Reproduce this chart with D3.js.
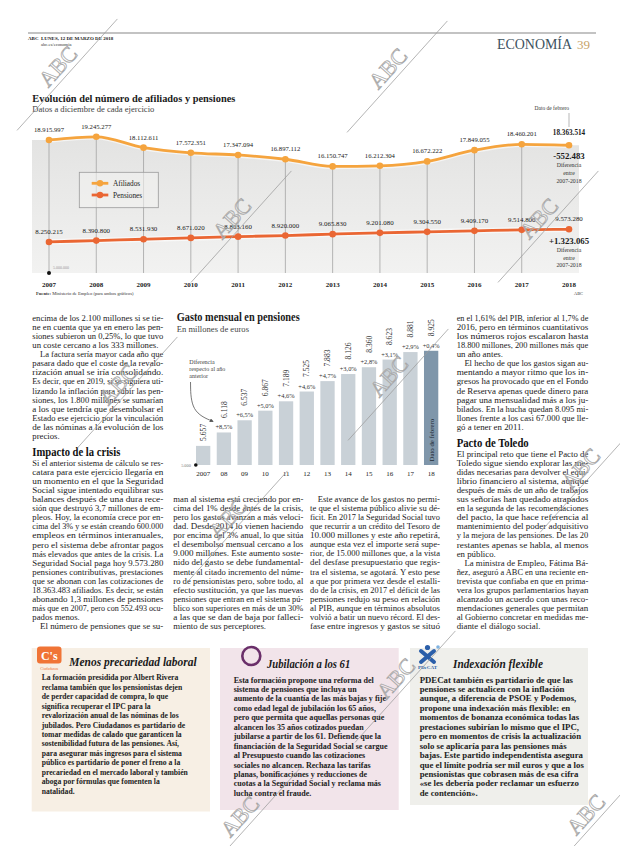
<!DOCTYPE html>
<html><head><meta charset="utf-8">
<script src="https://cdn.jsdelivr.net/npm/d3@7"></script>
<style>
body{margin:0;background:#fff;}
svg{display:block;}
text{font-family:"Liberation Serif","DejaVu Serif",serif;}
</style></head><body>
<svg id="page" width="620" height="846"></svg>
<script>
// ---------------- DATA ----------------
const years = [2007,2008,2009,2010,2011,2012,2013,2014,2015,2016,2017,2018];
const afiliados = [18915997,19245277,18112611,17572351,17347094,16897112,16150747,16212304,16672222,17849055,18460201,18363514];
const pensiones = [8250215,8390800,8531930,8671020,8803160,8920000,9065830,9201080,9304550,9409170,9514800,9573280];
const seriesNames = ["Afiliados","Pensiones"];
const gastoLabels = ["2007","08","09","10","11","12","13","14","15","16","17","18"];
const gasto = [5657,6118,6537,6867,7189,7525,7883,8126,8360,8623,8881,8925];
const gastoVar = ["","+8,5%","+6,5%","+5,0%","+4,6%","+4,6%","+4,7%","+3,0%","+2,8%","+3,1%","+2,9%","+0,4%"];

const leftCol = [
"encima de los 2.100 millones si se tie-",
"ne en cuenta que ya en enero las pen-",
"siones subieron un 0,25%, lo que tuvo",
"un coste cercano a los 333 millones.¶",
">La factura sería mayor cada año que",
"pasara dado que el coste de la revalo-",
"rización anual se iría consolidando.",
"Es decir, que en 2019, si se siguiera uti-",
"lizando la inflación para subir las pen-",
"siones, los 1.800 millones se sumarían",
"a los que tendría que desembolsar el",
"Estado ese ejercicio por la vinculación",
"de las nóminas a la evolución de los",
"precios.¶",
"#Impacto de la crisis",
"Si el anterior sistema de cálculo se res-",
"catara para este ejercicio llegaría en",
"un momento en el que la Seguridad",
"Social sigue intentado equilibrar sus",
"balances después de una dura rece-",
"sión que destruyó 3,7 millones de em-",
"pleos. Hoy, la economía crece por en-",
"cima del 3% y se están creando 600.000",
"empleos en términos interanuales,",
"pero el sistema debe afrontar pagos",
"más elevados que antes de la crisis. La",
"Seguridad Social paga hoy 9.573.280",
"pensiones contributivas, prestaciones",
"que se abonan con las cotizaciones de",
"18.363.483 afiliados. Es decir, se están",
"abonando 1,3 millones de pensiones",
"más que en 2007, pero con 552.493 ocu-",
"pados menos.¶",
">El número de pensiones que se su-"
];
const midCol1 = [
"man al sistema está creciendo por en-",
"cima del 1% desde antes de la crisis,",
"pero los gastos avanzan a más veloci-",
"dad. Desde 2014 lo vienen haciendo",
"por encima del 3% anual, lo que sitúa",
"el desembolso mensual cercano a los",
"9.000 millones. Este aumento soste-",
"nido del gasto se debe fundamental-",
"mente al citado incremento del núme-",
"ro de pensionistas pero, sobre todo, al",
"efecto sustitución, ya que las nuevas",
"pensiones que entran en el sistema pú-",
"blico son superiores en más de un 30%",
"a las que se dan de baja por falleci-",
"miento de sus perceptores.¶"
];
const midCol2 = [
">Este avance de los gastos no permi-",
"te que el sistema público alivie su dé-",
"ficit. En 2017 la Seguridad Social tuvo",
"que recurrir a un crédito del Tesoro de",
"10.000 millones y este año repetirá,",
"aunque esta vez el importe será supe-",
"rior, de 15.000 millones que, a la vista",
"del desfase presupuestario que regis-",
"tra el sistema, se agotará. Y esto pese",
"a que por primera vez desde el estalli-",
"do de la crisis, en 2017 el déficit de las",
"pensiones redujo su peso en relación",
"al PIB, aunque en términos absolutos",
"volvió a batir un nuevo récord. El des-",
"fase entre ingresos y gastos se situó"
];
const rightCol = [
"en el 1,61% del PIB, inferior al 1,7% de",
"2016, pero en términos cuantitativos",
"los números rojos escalaron hasta",
"18.800 millones, 200 millones más que",
"un año antes.¶",
">El hecho de que los gastos sigan au-",
"mentando a mayor ritmo que los in-",
"gresos ha provocado que en el Fondo",
"de Reserva apenas quede dinero para",
"pagar una mensualidad más a los ju-",
"bilados. En la hucha quedan 8.095 mi-",
"llones frente a los casi 67.000 que lle-",
"gó a tener en 2011.¶",
"#Pacto de Toledo",
"El principal reto que tiene el Pacto de",
"Toledo sigue siendo explorar las me-",
"didas necesarias para devolver el equi-",
"librio financiero al sistema, aunque",
"después de más de un año de trabajos",
"sus señorías han quedado atrapados",
"en la segunda de las recomendaciones",
"del pacto, la que hace referencia al",
"mantenimiento del poder adquisitivo",
"y la mejora de las pensiones. De las 20",
"restantes apenas se habla, al menos",
"en público.¶",
">La ministra de Empleo, Fátima Bá-",
"ñez, aseguró a ABC en una reciente en-",
"trevista que confiaba en que en prima-",
"vera los grupos parlamentarios hayan",
"alcanzado un acuerdo con unas reco-",
"mendaciones generales que permitan",
"al Gobierno concretar en medidas me-",
"diante el diálogo social.¶"
];
const box1Lines = [
"La formación presidida por Albert Rivera",
"reclama también que los pensionistas dejen",
"de perder capacidad de compra, lo que",
"significa recuperar el IPC para la",
"revalorización anual de las nóminas de los",
"jubilados. Pero Ciudadanos es partidario de",
"tomar medidas de calado que garanticen la",
"sostenibilidad futura de las pensiones. Así,",
"para asegurar más ingresos para el sistema",
"público es partidario de poner el freno a la",
"precariedad en el mercado laboral y también",
"aboga por fórmulas que fomenten la",
"natalidad."
];
const box2Lines = [
"Esta formación propone una reforma del",
"sistema de pensiones que incluya un",
"aumento de la cuantía de las más bajas y fije",
"como edad legal de jubilación los 65 años,",
"pero que permita que aquellas personas que",
"alcancen los 35 años cotizados puedan",
"jubilarse a partir de los 61. Defiende que la",
"financiación de la Seguridad Social se cargue",
"al Presupuesto cuando las cotizaciones",
"sociales no alcancen. Rechaza las tarifas",
"planas, bonificaciones y reducciones de",
"cuotas a la Seguridad Social y reclama más",
"lucha contra el fraude."
];
const box3Lines = [
"PDECat también es partidario de que las",
"pensiones se actualicen con la inflación",
"aunque, a diferencia de PSOE y Podemos,",
"propone una indexación más flexible: en",
"momentos de bonanza económica todas las",
"prestaciones subirían lo mismo que el IPC,",
"pero en momentos de crisis la actualización",
"solo se aplicaría para las pensiones más",
"bajas. Este partido independentista asegura",
"que el límite podría ser mil euros y que a los",
"pensionistas que cobrasen más de esa cifra",
"«se les debería poder reclamar un esfuerzo",
"de contención»."
];

// ---------------- SETUP ----------------
const svg = d3.select("#page");
const es = d3.formatLocale({decimal:",", thousands:".", grouping:[3], currency:["","€"], minus:"-"});
const fmt = es.format(",d");
const fmtS = es.format("+,d");
function fit(t, w){ t.attr("textLength", w).attr("lengthAdjust","spacingAndGlyphs"); return t; }
const AFI = "#f5a43e", PEN = "#ea6633";

// ---------------- HEADER ----------------
svg.append("line").attr("x1",28).attr("x2",596).attr("y1",33).attr("y2",33).attr("stroke","#888").attr("stroke-width",1.2);
svg.append("text").attr("x",28).attr("y",40).attr("font-size",5).attr("font-weight","bold").attr("fill","#222").text("ABC");
svg.append("text").attr("x",41).attr("y",40).attr("font-size",5).attr("font-weight","bold").attr("fill","#222").text("LUNES, 12 DE MARZO DE 2018");
svg.append("text").attr("x",41).attr("y",45.5).attr("font-size",4.6).attr("fill","#333").text("abc.es/economia");
fit(svg.append("text").attr("x",497).attr("y",49).attr("font-size",14).attr("fill","#3d5260").text("ECONOMÍA"),75);
svg.append("text").attr("x",577).attr("y",49).attr("font-size",13).attr("fill","#c8a36a").text("39");

// ---------------- LINE CHART ----------------
fit(svg.append("text").attr("x",32.3).attr("y",101.8).attr("font-size",11).attr("font-weight","bold").attr("fill","#1a1a1a")
  .text("Evolución del número de afiliados y pensiones"),203);
fit(svg.append("text").attr("x",32.3).attr("y",111.8).attr("font-size",8.5).attr("fill","#444")
  .text("Datos a diciembre de cada ejercicio"),122);

const xL = d3.scaleLinear().domain([years[0], years[years.length-1]]).range([49, 569]);
const yL = d3.scaleLinear().domain([5e6, 20e6]).range([273, 129.6]);
const afi = years.map((y,i)=>({year:y, v:afiliados[i]}));
const pen = years.map((y,i)=>({year:y, v:pensiones[i]}));

const defs = svg.append("defs");
const grad = defs.append("linearGradient").attr("id","areaGrad").attr("x1",0).attr("y1",0).attr("x2",0).attr("y2",1);
grad.append("stop").attr("offset","0%").attr("stop-color","#e3e3e2");
grad.append("stop").attr("offset","100%").attr("stop-color","#f2f2f1");

const areaPts = [{x:xL(years[0])-17, v:afiliados[0]}].concat(afi.map(d=>({x:xL(d.year), v:d.v}))).concat([{x:xL(years[years.length-1])+10, v:afiliados[afiliados.length-1]}]);
svg.append("path").datum(areaPts)
  .attr("d", d3.area().x(d=>d.x).y0(yL(5e6)).y1(d=>yL(d.v)).curve(d3.curveMonotoneX))
  .attr("fill","url(#areaGrad)");

// grid
svg.append("g").selectAll("line").data(afi.slice(0,-1)).join("line")
  .attr("x1",d=>xL(d.year)).attr("x2",d=>xL(d.year))
  .attr("y1",d=>yL(d.v)).attr("y2",yL(5e6))
  .attr("stroke","#9a9a9a").attr("stroke-width",0.7);
const lastYear = years[years.length-1];
svg.append("line").attr("x1",xL(lastYear)).attr("x2",xL(lastYear)).attr("y1",113).attr("y2",127)
  .attr("stroke","#9a9a9a").attr("stroke-width",0.7);
svg.append("text").attr("x",xL(lastYear)).attr("y",110).attr("text-anchor","end").attr("font-size",5.5).attr("fill","#333").text("Dato de febrero");

const lineGen = d3.line().x(d=>xL(d.year)).y(d=>yL(d.v)).curve(d3.curveMonotoneX);
[[afi,AFI],[pen,PEN]].forEach(([data,col])=>{
  svg.append("path").datum(data).attr("d",lineGen).attr("fill","none").attr("stroke","#fff").attr("stroke-opacity",0.6).attr("stroke-width",5.5);
  svg.append("path").datum(data).attr("d",lineGen).attr("fill","none").attr("stroke",col).attr("stroke-width",2.8);
  svg.append("g").selectAll("circle").data(data).join("circle")
    .attr("cx",d=>xL(d.year)).attr("cy",d=>yL(d.v)).attr("r",3.3).attr("fill",col);
});

// labels
svg.append("g").selectAll("text").data(afi).join("text")
  .attr("x",d=>xL(d.year)).attr("y",(d,i)=>yL(d.v)-(i===afi.length-1?10:8))
  .attr("text-anchor","middle").attr("font-size",(d,i)=>i===afi.length-1?7.2:6.7)
  .attr("font-weight",(d,i)=>i===afi.length-1?"bold":"normal").attr("fill","#1a1a1a")
  .text(d=>fmt(d.v));
svg.append("g").selectAll("text").data(pen).join("text")
  .attr("x",d=>xL(d.year)).attr("y",d=>yL(d.v)-8)
  .attr("text-anchor","middle").attr("font-size",6.9).attr("fill","#1a1a1a")
  .text(d=>fmt(d.v));

// differences
function diffNote(val, yTop){
  const g = svg.append("g").attr("text-anchor","middle");
  g.append("text").attr("x",xL(lastYear)).attr("y",yTop).attr("font-size",8.8).attr("font-weight","bold").attr("fill","#1a1a1a").text(fmtS(val));
  ["Diferencia","entre","2007-2018"].forEach((s,i)=>
    g.append("text").attr("x",xL(lastYear)).attr("y",yTop+8.3+i*7.6).attr("font-size",5.8).attr("fill","#333").text(s));
}
diffNote(afiliados[afiliados.length-1]-afiliados[0], 159);
diffNote(pensiones[pensiones.length-1]-pensiones[0], 243.7);

// years axis
svg.append("g").selectAll("text").data(years).join("text")
  .attr("x",d=>xL(d)).attr("y",286.5).attr("text-anchor","middle")
  .attr("font-size",7).attr("font-weight","bold").attr("fill","#222").text(d=>d);
svg.append("circle").attr("cx",xL(years[0])).attr("cy",yL(5e6)).attr("r",2).attr("fill","#111");
svg.append("text").attr("x",xL(years[0])+4).attr("y",yL(5e6)-4).attr("font-size",4).attr("fill","#999").text(fmt(5e6));

// legend
svg.append("rect").attr("x",79.3).attr("y",172.3).attr("width",79).attr("height",35.4)
  .attr("fill","#f1f1f0").attr("fill-opacity",0.6).attr("stroke","#9a9a9a").attr("stroke-width",0.8);
seriesNames.forEach((n,i)=>{
  const y = 183.3 + i*11.7, col = i===0?AFI:PEN;
  svg.append("line").attr("x1",91.7).attr("x2",108.3).attr("y1",y).attr("y2",y).attr("stroke",col).attr("stroke-width",2.8);
  svg.append("circle").attr("cx",100).attr("cy",y).attr("r",3.2).attr("fill",col);
  svg.append("text").attr("x",113).attr("y",y+2.5).attr("font-size",7.3).attr("fill","#222").text(n);
});

// source
const src = svg.append("text").attr("x",36).attr("y",295).attr("font-size",4.6).attr("fill","#333");
src.append("tspan").attr("font-weight","bold").text("Fuente: ");
src.append("tspan").text("Ministerio de Empleo (para ambos gráficos)");
svg.append("text").attr("x",583).attr("y",295).attr("text-anchor","end").attr("font-size",4.4).attr("fill","#333").text("ABC");

// ---------------- BAR CHART ----------------
fit(svg.append("text").attr("x",176.7).attr("y",321).attr("font-size",11.5).attr("font-weight","bold").attr("fill","#1a1a1a").text("Gasto mensual en pensiones"),123);
fit(svg.append("text").attr("x",176.7).attr("y",332).attr("font-size",8.5).attr("fill","#444").text("En millones de euros"),72.3);

const xB = d3.scaleBand().domain(gastoLabels).range([192.8,441.5]).paddingInner(0.31).paddingOuter(0.155);
const yB = d3.scaleLinear().domain([5000,9000]).range([465,348.6]);
const bars = gastoLabels.map((l,i)=>({l, v:gasto[i], p:gastoVar[i], last:i===gastoLabels.length-1}));
svg.append("g").selectAll("rect").data(bars).join("rect")
  .attr("x",d=>xB(d.l)).attr("y",d=>yB(d.v)).attr("width",xB.bandwidth()).attr("height",d=>yB(5000)-yB(d.v))
  .attr("fill",d=>d.last?"#7f96aa":"#c9d1d7");
// pct labels
svg.append("g").selectAll("text").data(bars.filter(d=>d.p)).join("text")
  .attr("x",d=>xB(d.l)+xB.bandwidth()/2).attr("y",d=>yB(d.v)-3)
  .attr("text-anchor","middle").attr("font-size",6.4).attr("fill","#333").text(d=>d.p);
// value labels rotated
svg.append("g").selectAll("text").data(bars).join("text")
  .attr("transform",d=>`translate(${xB(d.l)+xB.bandwidth()/2+2.7},${yB(d.v)-(d.p?14.5:5)}) rotate(-90)`)
  .attr("font-size",7.6).attr("fill","#333").text(d=>fmt(d.v));
// Dato de febrero inside last bar
const lastBar = bars[bars.length-1];
svg.append("text").attr("transform",`translate(${xB(lastBar.l)+xB.bandwidth()/2+2.4},${yB(5000)-3.5}) rotate(-90)`)
  .attr("font-size",6.8).attr("fill","#1e2b36").text("Dato de febrero");
// x axis
svg.append("g").selectAll("text").data(gastoLabels).join("text")
  .attr("x",d=>xB(d)+xB.bandwidth()/2).attr("y",475.5).attr("text-anchor","middle")
  .attr("font-size",7).attr("fill","#222").text(d=>d);
svg.append("circle").attr("cx",xB.range()[0]+3).attr("cy",yB(5000)).attr("r",1.8).attr("fill","#111");
svg.append("text").attr("x",xB.range()[0]-2).attr("y",yB(5000)+1.5).attr("text-anchor","end").attr("font-size",4.3).attr("fill","#777").text(fmt(5000));
// annotation
const ann = svg.append("g").attr("font-size",6).attr("fill","#444");
["Diferencia","respecto al año","anterior"].forEach((s,i)=>ann.append("text").attr("x",189.3).attr("y",363.8+i*7.3).text(s));
defs.append("marker").attr("id","arr").attr("viewBox","0 0 10 10").attr("refX",8).attr("refY",5)
  .attr("markerWidth",5).attr("markerHeight",5).attr("orient","auto")
  .append("path").attr("d","M0,0L10,5L0,10z").attr("fill","#555");
svg.append("path").attr("d",d3.line().curve(d3.curveBasis)([[190.5,382],[191,412],[213,421.5]]))
  .attr("fill","none").attr("stroke","#555").attr("stroke-width",0.8).attr("marker-end","url(#arr)");

// ---------------- TEXT COLUMNS ----------------
const headW = {"Impacto de la crisis":88, "Pacto de Toledo":72};
function drawColumn(lines, x0, width, y0, lh){
  const g = svg.append("g");
  let y = y0, prevHead = false;
  const items = [];
  lines.forEach((raw,i)=>{
    const head = raw.startsWith("#");
    if (i>0) y += head ? 17.5 : (prevHead ? 9.5 : lh);
    let s = raw, indent = 0, last = false;
    if (head) s = s.slice(1);
    if (s.startsWith(">")) { s = s.slice(1); indent = 7.7; }
    if (s.endsWith("¶")) { s = s.slice(0,-1); last = true; }
    const t = g.append("text").attr("x",x0+indent).attr("y",y).text(s)
      .attr("font-size",head?11.5:8.3).attr("font-weight",head?"bold":"normal").attr("fill",head?"#111":"#222");
    items.push({t, head, indent, last, s, w:t.node().getComputedTextLength()});
    prevHead = head;
  });
  const k = d3.median(items.filter(d=>!d.head && !d.last), d=>(width-d.indent)/d.w);
  items.forEach(d=>{
    if (d.head) fit(d.t, headW[d.s]);
    else if (d.last) fit(d.t, d.w*k);
    else fit(d.t, width-d.indent);
  });
}
drawColumn(leftCol, 32.3, 131, 321, 9.07);
drawColumn(midCol1, 173.3, 130, 502, 9.07);
drawColumn(midCol2, 310, 130, 502, 9.07);
drawColumn(rightCol, 456.7, 131.6, 321, 9.07);

// ---------------- BOXES ----------------
function drawBox(bx, bw, bh, fill, title, tx, ty, tw, lines, lx, ly, firstW){
  svg.append("rect").attr("x",bx).attr("y",648).attr("width",bw).attr("height",bh).attr("fill",fill);
  fit(svg.append("text").attr("x",tx).attr("y",ty).attr("font-size",12).attr("font-weight","bold").attr("font-style","italic").attr("fill","#1a1a1a").text(title), tw);
  const g = svg.append("g");
  const items = lines.map((s,i)=>{
    const t = g.append("text").attr("x",lx).attr("y",ly+i*9.44).attr("font-size",7.9).attr("font-weight","bold").attr("fill","#222").text(s);
    return {t, w:t.node().getComputedTextLength()};
  });
  const k = firstW/items[0].w;
  items.forEach(d=>fit(d.t, d.w*k));
}
drawBox(31.7,178.3,163.5,"#f7efe4","Menos precariedad laboral",69.3,666,127.4,box1Lines,41.7,680.3,136.6);
drawBox(220,178.7,162,"#f2e4ea","Jubilación a los 61",267,668,83.3,box2Lines,233.7,682.6,140);
drawBox(410,178,157,"#efefeb","Indexación flexible",453,668,90,box3Lines,419.7,682.6,153.3);

// logos
svg.append("rect").attr("x",37).attr("y",646.5).attr("width",24.5).attr("height",17).attr("rx",3).attr("fill","#f07436");
svg.append("text").attr("x",49.3).attr("y",660).attr("text-anchor","middle").attr("font-family","Liberation Sans, Arial, sans-serif").attr("font-size",12).attr("font-weight","bold").attr("fill","#fff").text("C's");
svg.append("text").attr("x",49.3).attr("y",669.5).attr("text-anchor","middle").attr("font-family","Liberation Sans, Arial, sans-serif").attr("font-size",3.8).attr("fill","#f07436").text("Ciudadanos");
svg.append("circle").attr("cx",251.3).attr("cy",656).attr("r",9).attr("fill","none").attr("stroke","#6a2f6a").attr("stroke-width",2.6);
const pd = svg.append("g").attr("stroke","#2b5fa9").attr("stroke-width",4).attr("stroke-linecap","round");
pd.append("line").attr("x1",421).attr("y1",651).attr("x2",434).attr("y2",662);
pd.append("line").attr("x1",434).attr("y1",651).attr("x2",421).attr("y2",662);
svg.append("circle").attr("cx",427.5).attr("cy",647.5).attr("r",2.6).attr("fill","#2b5fa9");
svg.append("circle").attr("cx",438).attr("cy",647).attr("r",1.8).attr("fill","#7fb2e0");
svg.append("text").attr("x",427.5).attr("y",669).attr("text-anchor","middle").attr("font-family","Liberation Sans, Arial, sans-serif").attr("font-size",5).attr("font-weight","bold").attr("fill","#2b5fa9").text("PDeCAT");

// ---------------- WATERMARKS ----------------
const marks = [[62,70],[392,72],[236,222],[543,222],[393,380],[122,388],[232,522],[585,472],[400,682],[244,820],[590,818]];
const wm = svg.append("g").attr("pointer-events","none");
marks.forEach(([x,y])=>{
  const g = wm.append("g").attr("transform",`translate(${x},${y}) rotate(-48)`);
  g.append("line").attr("x1",-75).attr("x2",75).attr("y1",7).attr("y2",7).attr("stroke","#9c9c9c").attr("stroke-width",0.7);
  g.append("text").attr("x",0).attr("y",2).attr("text-anchor","middle").attr("font-size",22)
    .attr("fill","none").attr("stroke","#a8a8a8").attr("stroke-width",0.8).text("ABC");
});
</script></body></html>
